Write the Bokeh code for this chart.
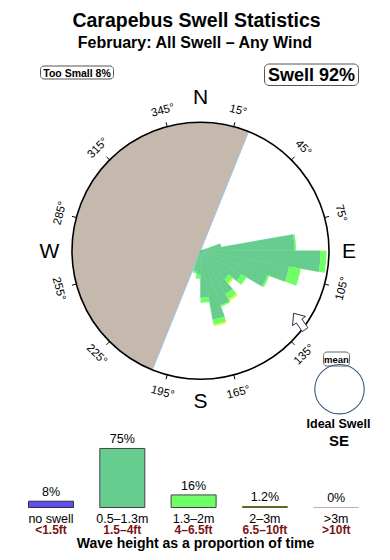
import numpy as np
from bokeh.plotting import figure
from bokeh.models import Range1d
from bokeh.embed import file_html
from bokeh.resources import INLINE
from bokeh.core.properties import value

# ---------------- data ----------------
title = "Carapebus Swell Statistics"
subtitle = "February: All Swell \u2013 Any Wind"
too_small_pct = 8
swell_pct = 92
ideal_dir = "SE"

# swell rose: bins of 10 degrees (bearing where the bin starts)
bin_start = [70, 80, 90, 100, 110, 120, 130, 140, 150, 160, 170, 180, 190]
bin_width = 10
# radial length of each band, as a fraction of the outer ring
r_green = [0.163, 0.732, 0.934, 0.700, 0.553, 0.366, 0.288, 0.389, 0.451, 0.545, 0.366, 0.187, 0.163]
r_light = [0.000, 0.012, 0.047, 0.093, 0.016, 0.047, 0.039, 0.047, 0.012, 0.039, 0.039, 0.031, 0.016]
r_yellow = [0.000, 0.000, 0.000, 0.000, 0.000, 0.000, 0.012, 0.016, 0.000, 0.012, 0.000, 0.000, 0.000]

land_from, land_to = 202, 382          # land sector, bearings (clockwise from N)
degree_ticks = [15, 45, 75, 105, 135, 165, 195, 225, 255, 285, 315, 345]
compass = ["N", "E", "S", "W"]
compass_bearing = [0, 90, 180, 270]
mean_dir_from = 145                     # arrow direction

height_cats = ["no swell", "0.5\u20131.3m", "1.3\u20132m", "2\u20133m", ">3m"]
height_ft = ["<1.5ft", "1.5\u20134ft", "4\u20136.5ft", "6.5\u201310ft", ">10ft"]
height_pct = [8, 75, 16, 1.2, 0]
height_lbl = ["8%", "75%", "16%", "1.2%", "0%"]

# ---------------- styling / layout ----------------
W, H = 390, 560
FONT = value("Liberation Sans")
C_GREEN = "#66CD8E"
C_LIGHT = "#6EFF64"
C_YELLOW = "#E4F23A"
C_BLUE = "#5E4FF0"
C_PINK = "#C9AAA6"
C_LAND = "#C4B9AC"
C_RED = "#7A1414"
height_colors = [C_BLUE, C_GREEN, C_LIGHT, C_YELLOW, C_PINK]
height_lines = ["#333333", "#444444", "#444444", "#556622", C_PINK]


def Y(yp):
    return H - yp


cx, cy = 200.0, Y(250.3)
R = 128.5

p = figure(width=W, height=H, x_range=Range1d(0, W), y_range=Range1d(0, H),
           toolbar_location=None, output_backend="svg",
           x_axis_location=None, y_axis_location=None, min_border=0)
p.grid.visible = False
p.outline_line_color = None
p.background_fill_color = "white"
p.border_fill_color = "white"


def rrect(x0, y0, x1, y1, r=4, n=6):
    xs, ys = [], []
    corners = [(x1 - r, y1 - r, 0), (x0 + r, y1 - r, 90), (x0 + r, y0 + r, 180), (x1 - r, y0 + r, 270)]
    for (ccx, ccy, a0) in corners:
        for t in np.linspace(a0, a0 + 90, n):
            xs.append(ccx + r * np.cos(np.radians(t)))
            ys.append(ccy + r * np.sin(np.radians(t)))
    return xs, ys


def txt(x, y, s, size, bold=False, color="black", align="center", angle=0.0):
    p.text(x=[x], y=[y], text=[s], text_font=FONT, text_font_size=f"{size}px",
           text_font_style="bold" if bold else "normal", text_color=color,
           text_align=align, text_baseline="middle", angle=angle)


# titles
txt(196, Y(19), title, 19.5, bold=True)
txt(195, Y(42), subtitle, 16, bold=True)

# boxes
bx, by = rrect(40, Y(78.5), 113, Y(65.5), r=3.5)
p.patch(bx, by, fill_color="white", line_color="#555555", line_width=1)
txt(76.5, Y(72), f"Too Small {too_small_pct}%", 10.5, bold=True)
bx, by = rrect(264, Y(85), 358, Y(63.5), r=4.5)
p.patch(bx, by, fill_color="white", line_color="#555555", line_width=1)
txt(311, Y(74.3), f"Swell {swell_pct}%", 18, bold=True)

# land sector
p.wedge(x=cx, y=cy, radius=R - 0.5,
        start_angle=np.radians(90 - land_to), end_angle=np.radians(90 - land_from),
        fill_color=C_LAND, line_color=None)
# coastline
a1, a2 = np.radians(land_from), np.radians(land_to)
p.segment(x0=[cx + R * np.sin(a1)], y0=[cy + R * np.cos(a1)],
          x1=[cx + R * np.sin(a2)], y1=[cy + R * np.cos(a2)],
          line_color="#9EC6EE", line_width=1)

# rose
start = [np.radians(90 - (b + bin_width)) for b in bin_start]
end = [np.radians(90 - b) for b in bin_start]
g = np.array(r_green) * R
lgt = g + np.array(r_light) * R
yl = lgt + np.array(r_yellow) * R
p.wedge(x=cx, y=cy, radius=g, start_angle=start, end_angle=end,
        fill_color=C_GREEN, line_color=C_GREEN, line_width=0.4)
p.annular_wedge(x=cx, y=cy, inner_radius=g, outer_radius=lgt, start_angle=start, end_angle=end,
                fill_color=C_LIGHT, line_color=None)
p.annular_wedge(x=cx, y=cy, inner_radius=lgt, outer_radius=yl, start_angle=start, end_angle=end,
                fill_color=C_YELLOW, line_color=None)

# outer ring and ticks
p.circle(x=[cx], y=[cy], radius=R, fill_color=None, line_color="black", line_width=1.6)
ta = np.radians(degree_ticks)
p.segment(x0=cx + (R - 0.5) * np.sin(ta), y0=cy + (R - 0.5) * np.cos(ta),
          x1=cx + (R + 4.5) * np.sin(ta), y1=cy + (R + 4.5) * np.cos(ta),
          line_color="black", line_width=1)

# degree labels
for b in degree_ticks:
    a = np.radians(b)
    rot = 180 - b if 90 < b < 270 else -b
    txt(cx + 146 * np.sin(a), cy + 146 * np.cos(a), f"{b}\u00b0", 11.5, angle=np.radians(rot))

# compass letters
comp_r = {"N": 154, "E": 148.5, "S": 149.5, "W": 151}
for lab, b in zip(compass, compass_bearing):
    a = np.radians(b)
    rr = comp_r[lab]
    txt(cx + rr * np.sin(a), cy + rr * np.cos(a), lab, 21)

# mean-direction arrow (outlined)
ta_pos = np.radians(127)
tx, ty = cx + 131 * np.sin(ta_pos), cy + 131 * np.cos(ta_pos)
d = np.radians(mean_dir_from + 180)
u = np.array([np.sin(d), np.cos(d)])
v = np.array([u[1], -u[0]])
L, hl, hw, sw = 20, 9.5, 8, 3.4
pts = [(-sw, 0), (sw, 0), (sw, L - hl), (hw, L - hl), (0, L), (-hw, L - hl), (-sw, L - hl)]
axs = [tx + a_ * v[0] + b_ * u[0] for a_, b_ in pts]
ays = [ty + a_ * v[1] + b_ * u[1] for a_, b_ in pts]
p.patch(axs, ays, fill_color="white", line_color="#223344", line_width=1)

# ideal swell / mean
bx, by = rrect(323, Y(365.5), 349, Y(351.5), r=3.5)
p.patch(bx, by, fill_color="white", line_color="#666666", line_width=1)
txt(336, Y(358.5), "mean", 9.5, bold=True)
p.circle(x=[339], y=[Y(388.7)], radius=24.7, fill_color=None, line_color="#3A5A80", line_width=1.1)
txt(338, Y(423.3), "Ideal Swell", 12.5, bold=True)
txt(338.5, Y(439.5), ideal_dir, 15, bold=True)

# wave height bars
base = Y(507)
ppp = 0.787
xs = [50.5 + 71.3 * i for i in range(len(height_cats))]
hts = [h * ppp for h in height_pct]
p.vbar(x=xs, width=45, bottom=base, top=[base + h for h in hts],
       fill_color=height_colors, line_color=height_lines, line_width=1)
for x, h, lab, cat, ft in zip(xs, hts, height_lbl, height_cats, height_ft):
    txt(x, base + h + 9.2, lab, 12.5)
    txt(x, Y(518.8), cat, 12.5)
    txt(x, Y(529.6), ft, 12, bold=True, color=C_RED)
txt(195, Y(542.3), "Wave height as a proportion of time", 14, bold=True)

open("out.html", "w").write(file_html(p, INLINE))
